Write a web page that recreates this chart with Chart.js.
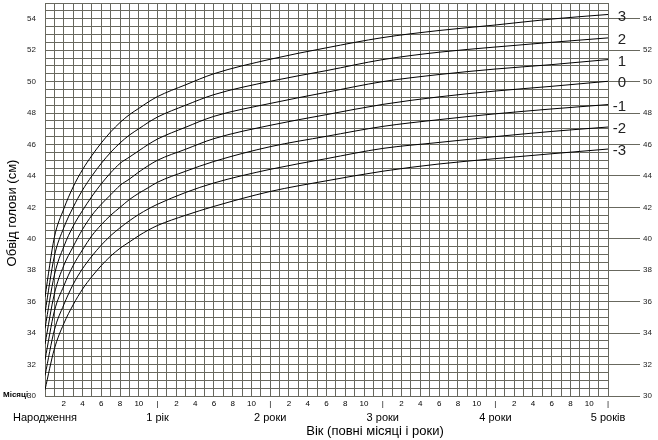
<!DOCTYPE html>
<html>
<head>
<meta charset="utf-8">
<script src="https://cdn.jsdelivr.net/npm/chart.js@4.4.1/dist/chart.umd.min.js"></script>
<style>
  body { margin: 0; background: #fff; }
</style>
</head>
<body>
<canvas id="hc" width="658" height="440"></canvas>
<script>
// Обвід голови, z-криві (0-5 років)
const months = [0, 1, 2, 3, 4, 5, 6, 7, 8, 9, 10, 11, 12, 15, 18, 24, 30, 36, 42, 48, 54, 60];

const zP3 = [36.3, 40.1, 41.9, 43.3, 44.4, 45.3, 46.1, 46.8, 47.4, 47.9, 48.3, 48.7, 49.05, 49.8, 50.5, 51.42, 52.15, 52.8, 53.25, 53.6, 53.98, 54.27];
const zP2 = [35.3, 38.9, 40.7, 42.0, 43.1, 44.0, 44.8, 45.5, 46.1, 46.6, 47.0, 47.4, 47.75, 48.5, 49.17, 50.02, 50.7, 51.4, 51.87, 52.2, 52.5, 52.78];
const zP1 = [34.3, 37.7, 39.5, 40.8, 41.8, 42.7, 43.5, 44.2, 44.8, 45.2, 45.6, 46.0, 46.35, 47.1, 47.79, 48.61, 49.32, 50.0, 50.45, 50.8, 51.08, 51.4];
const z0 = [33.3, 36.5, 38.3, 39.5, 40.6, 41.5, 42.2, 42.8, 43.4, 43.8, 44.25, 44.65, 45.0, 45.7, 46.37, 47.22, 47.9, 48.55, 49.03, 49.4, 49.7, 50.02];
const zM1 = [32.3, 35.4, 37.0, 38.3, 39.3, 40.2, 40.9, 41.5, 42.0, 42.5, 42.9, 43.25, 43.6, 44.3, 44.92, 45.86, 46.52, 47.15, 47.58, 47.95, 48.26, 48.54];
const zM2 = [31.3, 34.2, 35.8, 37.1, 38.1, 38.9, 39.6, 40.2, 40.7, 41.15, 41.55, 41.9, 42.2, 42.95, 43.55, 44.42, 45.1, 45.75, 46.13, 46.5, 46.83, 47.11];
const zM3 = [30.4, 33.0, 34.6, 35.8, 36.8, 37.6, 38.3, 38.9, 39.4, 39.8, 40.2, 40.55, 40.85, 41.5, 42.06, 43.01, 43.69, 44.3, 44.76, 45.1, 45.41, 45.71];

const zLabels = ["3", "2", "1", "0", "-1", "-2", "-3"];
const yearLabels = ["Народження", "1 рік", "2 роки", "3 роки", "4 роки", "5 років"];

const font = "Arial, 'Liberation Sans', sans-serif";
const gridColor = "rgb(104,104,94)";

function toPoints(vals) {
  return months.map((m, i) => ({ x: m, y: vals[i] }));
}

const series = [zP3, zP2, zP1, z0, zM1, zM2, zM3];

// прибрати автоматичні відступи під крайні підписи
function noPad(s) {
  s.paddingTop = 0;
  s.paddingBottom = 0;
  s.paddingLeft = 0;
  s.paddingRight = 0;
}

// підписи z-кривих, назви осей, "Місяці"
const extraText = {
  id: "extraText",
  afterDraw(chart) {
    const ctx = chart.ctx;
    ctx.save();
    ctx.fillStyle = "#222";
    ctx.font = "15px " + font;
    ctx.textAlign = "right";
    ctx.textBaseline = "middle";
    chart.data.datasets.forEach((ds, i) => {
      const pts = chart.getDatasetMeta(i).data;
      const last = pts[pts.length - 1];
      ctx.fillText(zLabels[i], 626, last.y + 2);
    });

    ctx.fillStyle = "#000";
    ctx.font = "13px " + font;
    ctx.textAlign = "center";
    ctx.fillText("Вік (повні місяці і роки)", 375, 431);

    ctx.save();
    ctx.translate(12, 213);
    ctx.rotate(-Math.PI / 2);
    ctx.fillText("Обвід голови (см)", 0, 0);
    ctx.restore();

    ctx.font = "bold 8px " + font;
    ctx.textAlign = "left";
    ctx.fillText("Місяці", 3, 395);
    ctx.restore();
  }
};

new Chart(document.getElementById("hc").getContext("2d"), {
  type: "line",
  data: {
    datasets: series.map((vals, i) => ({
      label: zLabels[i],
      data: toPoints(vals),
      borderColor: "#000",
      borderWidth: 1,
      pointRadius: 0,
      fill: false,
      cubicInterpolationMode: "monotone"
    }))
  },
  options: {
    responsive: false,
    animation: false,
    devicePixelRatio: 1,
    layout: { padding: { top: 3, left: 0, right: 0, bottom: 0 } },
    plugins: {
      legend: { display: false },
      tooltip: { enabled: false },
      title: { display: false }
    },
    scales: {
      x: {
        type: "linear",
        position: "bottom",
        min: 0,
        max: 60,
        grid: { color: gridColor, lineWidth: 1, drawTicks: false },
        border: { display: false },
        ticks: {
          stepSize: 1,
          autoSkip: false,
          maxRotation: 0,
          minRotation: 0,
          padding: 3,
          color: "#000",
          font: { size: 8, family: font },
          callback: (v) => {
            const r = v % 12;
            if (r === 0) return v > 0 ? "|" : "";
            return r % 2 === 0 ? String(r) : "";
          }
        },
        afterFit: (s) => { s.height = 12; noPad(s); }
      },
      x2: {
        type: "linear",
        position: "bottom",
        min: 0,
        max: 60,
        grid: { display: false, drawTicks: false },
        border: { display: false },
        ticks: {
          stepSize: 12,
          autoSkip: false,
          maxRotation: 0,
          minRotation: 0,
          padding: 3,
          color: "#000",
          font: { size: 11, family: font },
          callback: (v) => yearLabels[Math.round(v / 12)]
        },
        afterFit: (s) => { s.height = 32; noPad(s); }
      },
      y: {
        type: "linear",
        position: "left",
        min: 30,
        max: 55,
        grid: { color: gridColor, lineWidth: 1, drawTicks: false },
        border: { display: false },
        ticks: {
          stepSize: 0.5,
          autoSkip: false,
          padding: 9,
          color: "#222",
          font: { size: 8, family: font },
          callback: (v) => (Math.abs(v % 2) < 0.001 ? String(v) : "")
        },
        afterFit: (s) => { s.width = 45; noPad(s); }
      },
      y2: {
        type: "linear",
        position: "right",
        min: 30,
        max: 55,
        grid: { drawOnChartArea: false, drawTicks: true, tickLength: 32, color: gridColor },
        border: { display: false },
        ticks: {
          stepSize: 2,
          includeBounds: false,
          autoSkip: false,
          padding: 3,
          color: "#222",
          font: { size: 8, family: font }
        },
        afterFit: (s) => { s.width = 50; noPad(s); }
      }
    }
  },
  plugins: [extraText]
});
</script>
</body>
</html>
